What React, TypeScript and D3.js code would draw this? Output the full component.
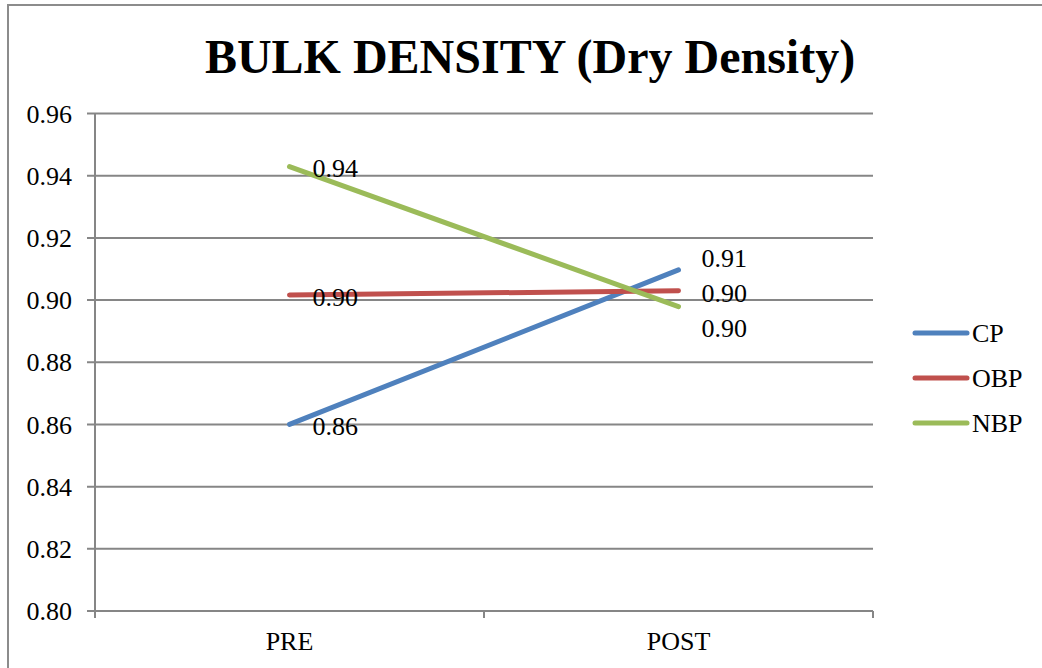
import React from "react";
import * as d3 from "d3";

const categories = ["PRE", "POST"];
const seriesNames = ["CP", "OBP", "NBP"];
const cpValues = [0.86, 0.9097];
const obpValues = [0.9016, 0.903];
const nbpValues = [0.9429, 0.8979];
const labelTexts = [
  ["0.86", "0.91"],
  ["0.90", "0.90"],
  ["0.94", "0.90"],
];
const yTicks = [0.8, 0.82, 0.84, 0.86, 0.88, 0.9, 0.92, 0.94, 0.96];

const colors = ["#4F81BD", "#C0504D", "#9BBB59"];
// vertical nudges for data labels (px), per series per category
const labelNudge = [
  [1, -12],
  [2, 2],
  [1, 21],
];

export default function App() {
  const W = 1042;
  const H = 668;
  const left = 95;
  const right = 873;
  const top = 113.5;
  const bottom = 611;
  const font = "'Liberation Serif', 'Times New Roman', serif";

  const y = d3.scaleLinear().domain([0.8, 0.96]).range([bottom, top]);
  const x = d3.scaleBand<string>().domain(categories).range([left, right]);
  const xc = (c: string) => (x(c) as number) + x.bandwidth() / 2;

  const all = [cpValues, obpValues, nbpValues];
  const line = d3
    .line<number>()
    .x((_, i) => xc(categories[i]))
    .y((d) => y(d));

  const grid = "#868686";
  const boundaries = [left, ...categories.map((c) => (x(c) as number) + x.bandwidth())];

  return (
    <svg
      width={W}
      height={H}
      style={{ position: "absolute", left: 0, top: 0, background: "#fff", fontFamily: font }}
    >
      <rect x={8} y={5} width={W + 20} height={H + 20} fill="#fff" stroke="#8c8c8c" strokeWidth={2} />
      <text
        x={530}
        y={73}
        textAnchor="middle"
        fontSize={48}
        fontWeight="bold"
        fill="#000"
        style={{ fontFamily: font }}
      >
        BULK DENSITY (Dry Density)
      </text>
      {yTicks.map((t) => (
        <g key={t}>
          <line x1={left - 8} x2={right} y1={y(t)} y2={y(t)} stroke={grid} strokeWidth={2} />
          <text x={72} y={y(t)} dy="0.35em" textAnchor="end" fontSize={26} fill="#000" style={{ fontFamily: font }}>
            {t.toFixed(2)}
          </text>
        </g>
      ))}
      <line x1={left} x2={left} y1={top} y2={bottom + 7} stroke={grid} strokeWidth={2} />
      {boundaries.map((b, i) => (
        <line key={i} x1={b} x2={b} y1={bottom} y2={bottom + 7} stroke={grid} strokeWidth={2} />
      ))}
      {categories.map((c) => (
        <text key={c} x={xc(c)} y={650} textAnchor="middle" fontSize={26} fill="#000" style={{ fontFamily: font }}>
          {c}
        </text>
      ))}
      {all.map((vals, si) => (
        <path
          key={si}
          d={line(vals) as string}
          fill="none"
          stroke={colors[si]}
          strokeWidth={5}
          strokeLinecap="round"
        />
      ))}
      {all.map((vals, si) =>
        vals.map((v, ci) => (
          <text
            key={`${si}-${ci}`}
            x={xc(categories[ci]) + 23}
            y={y(v) + labelNudge[si][ci]}
            dy="0.35em"
            fontSize={26}
            fill="#000"
            style={{ fontFamily: font }}
          >
            {labelTexts[si][ci]}
          </text>
        ))
      )}
      {seriesNames.map((n, i) => (
        <g key={n} transform={`translate(0, ${333 + i * 45})`}>
          <line x1={915} x2={967} y1={0} y2={0} stroke={colors[i]} strokeWidth={5} strokeLinecap="round" />
          <text x={972} y={0} dy="0.35em" fontSize={26} fill="#000" style={{ fontFamily: font }}>
            {n}
          </text>
        </g>
      ))}
    </svg>
  );
}
